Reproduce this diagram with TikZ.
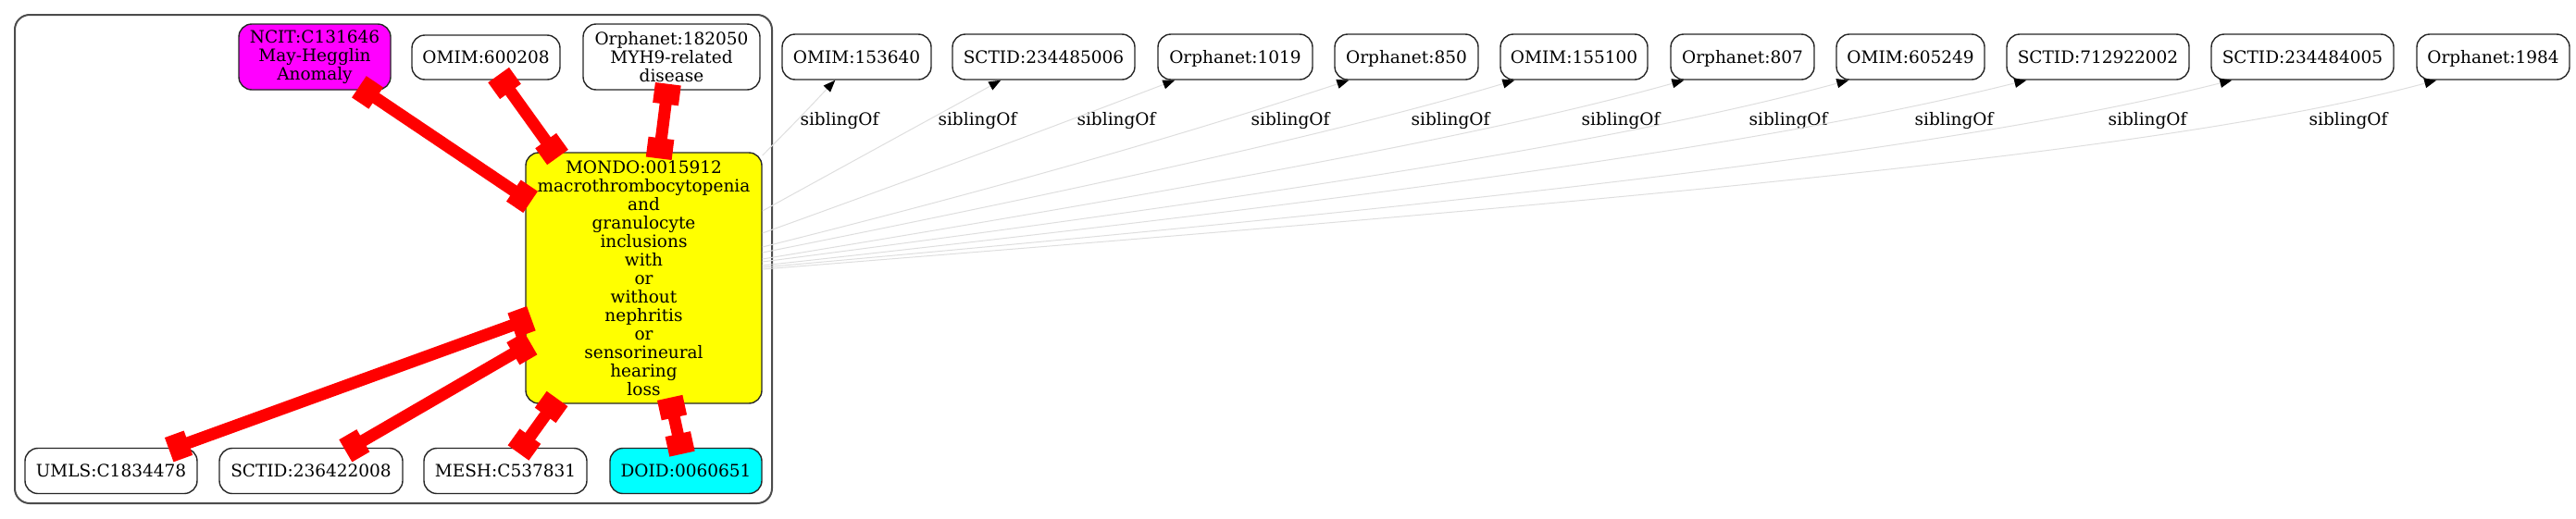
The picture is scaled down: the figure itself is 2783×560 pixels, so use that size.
\documentclass[tikz,border=0pt]{standalone}
\usepackage{fontspec}
\setmainfont{DejaVu Serif}
\usetikzlibrary{arrows.meta}
\definecolor{ncitpink}{RGB}{255,0,255}
\definecolor{mondoyellow}{RGB}{255,255,0}
\definecolor{doidcyan}{RGB}{0,255,255}
\definecolor{xrefred}{RGB}{255,0,0}
\definecolor{sibgray}{RGB}{222,222,222}

\begin{document}
\begin{tikzpicture}[
    x=1pt, y=-1pt,
    font=\fontsize{18.5}{20}\selectfont,
    term/.style={rectangle, draw=black!85, line width=1.4pt, rounded corners=14pt, inner sep=0pt, align=center},
    one/.style={text height=13.5pt, text depth=0pt, minimum height=49pt},
    grp/.style={rectangle, draw=black!70, line width=2pt, rounded corners=16pt, minimum width=818pt, minimum height=528pt},
    xref/.style={xrefred, line width=13pt, shorten <=-7pt, shorten >=-7pt,
        arrows={Rectangle[length=22pt,width=28pt]-Rectangle[length=22pt,width=28pt]}},
    sib/.style={sibgray, line width=1pt, arrows={-Triangle[length=13pt,width=10pt,color=black]}},
    lbl/.style={anchor=base, inner sep=0pt}
]
    \useasboundingbox (0,0) rectangle (2783,560);

    % Cluster round the disease
    \node[grp] (grp) at (425,280) {};
    \node[term, fill=ncitpink, minimum width=164pt, minimum height=71pt] (ncit) at (340,61.5) {NCIT:C131646\\May-Hegglin\\Anomaly};
    \node[term, one, minimum width=160pt, minimum height=48pt] (omim) at (525,62) {OMIM:600208};
    \node[term, minimum width=191pt, minimum height=71pt] (orpha) at (725.5,61.5) {Orphanet:182050\\MYH9-related\\disease};
    \node[term, fill=mondoyellow, minimum width=255pt, minimum height=271pt] (mondo) at (695.5,300.5)
        {MONDO:0015912\\macrothrombocytopenia\\and\\granulocyte\\inclusions\\with\\or\\without\\nephritis\\or\\sensorineural\\hearing\\loss};
    \foreach \n/\t/\c/\w/\f in {umls/UMLS:C1834478/120/186/white, sctid/SCTID:236422008/336/198/white,
                                mesh/MESH:C537831/546/176/white, doid/DOID:0060651/741/164/doidcyan} {
        \node[term, one, fill=\f, minimum width=\w pt] (\n) at (\c,509) {\t};
    }

    % Siblings
    \foreach \i/\t/\c/\w in {1/OMIM:153640/925.5/161, 2/SCTID:234485006/1127.5/197, 3/Orphanet:1019/1334.5/167,
                             4/Orphanet:850/1519.5/155, 5/OMIM:155100/1700.5/159, 6/Orphanet:807/1882.5/155,
                             7/OMIM:605249/2064/160, 8/SCTID:712922002/2266.5/197, 9/SCTID:234484005/2487.5/197,
                             10/Orphanet:1984/2693.5/165} {
        \node[term, one, minimum width=\w pt] (s\i) at (\c,61.5) {\t};
    }
    \foreach \i/\x in {1/907, 2/1056, 3/1206, 4/1394, 5/1567, 6/1751, 7/1932, 8/2111, 9/2320, 10/2537} {
        \node[lbl] (l\i) at (\x,135) {siblingOf};
    }

    % Cross references
    \draw[xref] (ncit) -- (mondo);
    \draw[xref] (omim) -- (mondo);
    \draw[xref] (orpha) -- (mondo);
    \draw[xref] (umls) -- (mondo);
    \draw[xref] (sctid) -- (mondo);
    \draw[xref] (mesh) -- (mondo);
    \draw[xref] (doid) -- (mondo);

    % siblingOf edges
    \foreach \i/\u/\d/\ax/\ay/\bx/\by in {1/132.5/58/40/-40/-16/16.8, 2/72.5/53/130/-71.5/-52/28.6,
            3/48.5/19/223/-80.3/-90/34.2, 4/33.5/16/318/-79.5/-127/41.9, 5/27.5/16/407/-81.4/-163/48.9,
            6/20.5/15/500/-82.5/-200/56, 7/17.5/14/590/-76.7/-235/63.5, 8/13.5/22/680/-74.8/-270/67.5,
            9/11.5/23/800/-72/-300/75, 10/9.5/22/900/-72/-300/81} {
        \draw[sib] ([yshift=\u pt]mondo.east) .. controls +(\ax,\ay) and +(\bx,\by) .. ([xshift=\d pt]s\i.south west);
    }
\end{tikzpicture}
\end{document}
